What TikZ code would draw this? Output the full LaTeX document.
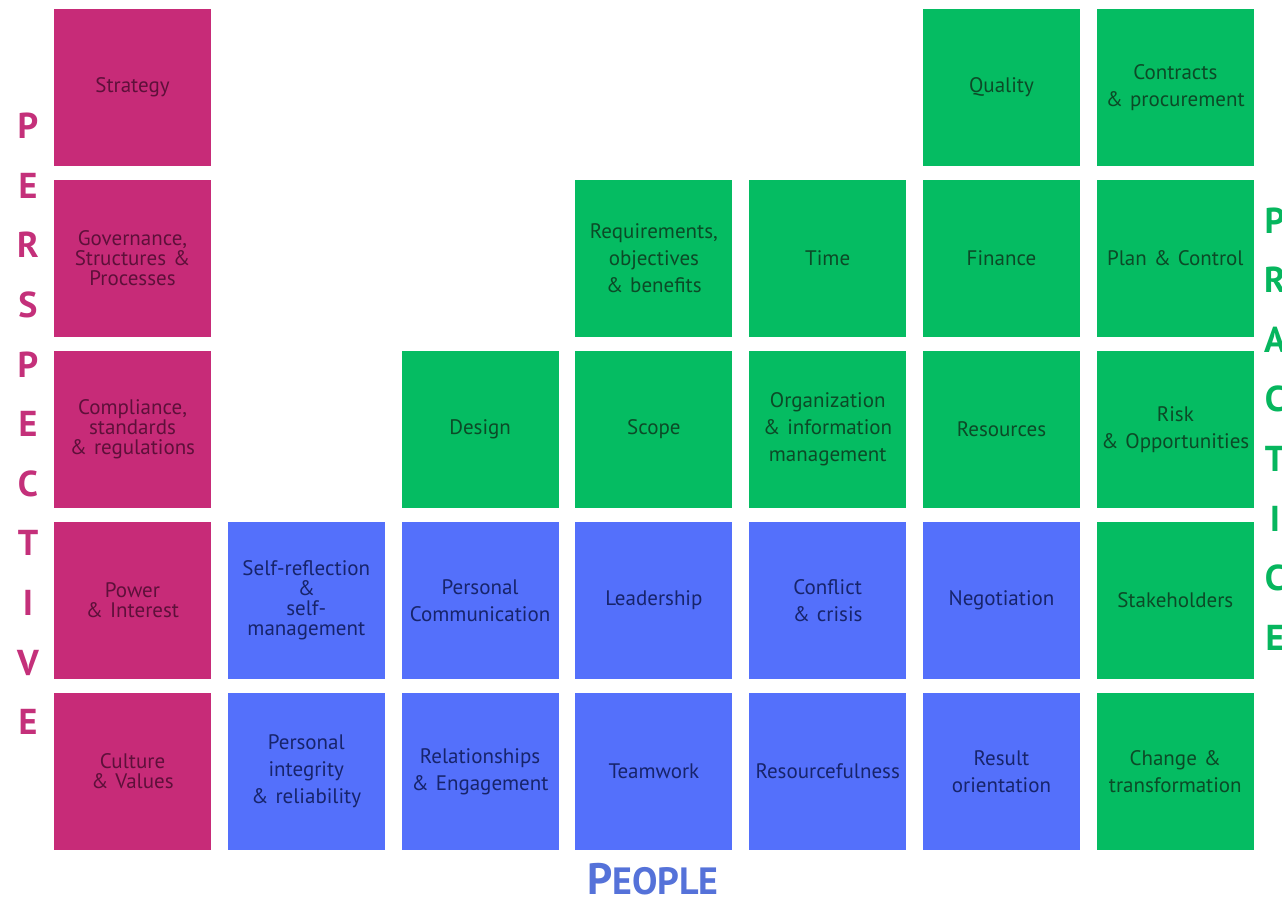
\documentclass[tikz,border=0pt]{standalone}
\usepackage{fontspec}
\setmainfont{PT Sans}
\usepackage{tikz}
\usetikzlibrary{positioning}
\definecolor{perspbox}{HTML}{C72B78}
\definecolor{persptext}{HTML}{5E103A}
\definecolor{perspletter}{HTML}{C4307A}
\definecolor{peoplebox}{HTML}{5470FB}
\definecolor{peopletext}{HTML}{17246B}
\definecolor{peopleletter}{HTML}{5572D9}
\definecolor{practbox}{HTML}{05BC62}
\definecolor{practtext}{HTML}{0C4A27}
\definecolor{practletter}{HTML}{06B65E}
\newcommand{\tightspace}{\spaceskip=0.22em plus 0.05em\relax}

\begin{document}
\begin{tikzpicture}[x=0.5pt, y=0.5pt, node distance=7pt and 8.4pt]
    % Define styles
    \tikzstyle{tile} = [rectangle, inner sep=1.25pt, outer sep=0pt, text width=76pt, align=center, minimum height=78.5pt, font=\fontsize{10.5}{13.5}\selectfont\tightspace]
    \tikzstyle{persp} = [tile, fill=perspbox, text=persptext, font=\fontsize{10.5}{10}\selectfont\tightspace]
    \tikzstyle{people} = [tile, fill=peoplebox, text=peopletext]
    \tikzstyle{pract} = [tile, fill=practbox, text=practtext]
    \tikzstyle{letters} = [inner sep=0pt, align=center, font=\bfseries\fontsize{18}{29.8}\selectfont]

    \useasboundingbox (0,0) rectangle (1282,900);

    % Bottom row
    \node [persp] (culture) at (132.5,128.5) {Culture\\\& Values};
    \node [people, right=of culture] (integrity) {Personal\\integrity\\\& reliability};
    \node [people, right=of integrity] (relationships) {Relationships\\\& Engagement};
    \node [people, right=of relationships] (teamwork) {Teamwork};
    \node [people, right=of teamwork] (resourceful) {Resourcefulness};
    \node [people, right=of resourceful] (result) {Result\\orientation};
    \node [pract, right=of result] (change) {Change \&\\transformation};

    % Perspective column
    \node [persp, above=of culture] (power) {Power\\\& Interest};
    \node [persp, above=of power] (compliance) {Compliance,\\standards\\\& regulations};
    \node [persp, above=of compliance] (governance) {Governance,\\Structures \&\\Processes};
    \node [persp, above=of governance] (strategy) {Strategy};

    % People row
    \node [people, above=of integrity, font=\fontsize{10.5}{10}\selectfont\tightspace] (selfrefl) {Self-reflection\\\&\\self-\\management};
    \node [people, above=of relationships] (communication) {Personal\\Communication};
    \node [people, above=of teamwork] (leadership) {Leadership};
    \node [people, above=of resourceful] (conflict) {Conflict\\\& crisis};
    \node [people, above=of result] (negotiation) {Negotiation};
    \node [pract, above=of change] (stakeholders) {Stakeholders};

    % Practice blocks
    \node [pract, above=of communication] (design) {Design};
    \node [pract, above=of leadership] (scope) {Scope};
    \node [pract, above=of conflict] (orginfo) {Organization\\\& information\\management};
    \node [pract, above=of negotiation] (resources) {Resources};
    \node [pract, above=of stakeholders] (risk) {Risk\\\& Opportunities};
    \node [pract, above=of scope] (requirements) {Requirements,\\objectives\\\& benefits};
    \node [pract, above=of orginfo] (time) {Time};
    \node [pract, above=of resources] (finance) {Finance};
    \node [pract, above=of risk] (plan) {Plan \& Control};
    \node [pract, above=of finance] (quality) {Quality};
    \node [pract, above=of plan] (contracts) {Contracts\\\& procurement};

    % Axis labels
    \node [letters, text=perspletter] (perspective) at (28,476) {P\\E\\R\\S\\P\\E\\C\\T\\I\\V\\E};
    \node [letters, text=practletter] (practice) at (1275,471) {P\\R\\A\\C\\T\\I\\C\\E};
    \node [inner sep=0pt, anchor=base, text=peopleletter, font=\bfseries] (peoplelabel) at (653,5) {{\fontsize{22}{22}\selectfont P}{\fontsize{19}{19}\selectfont EOPLE}};
\end{tikzpicture}
\end{document}
